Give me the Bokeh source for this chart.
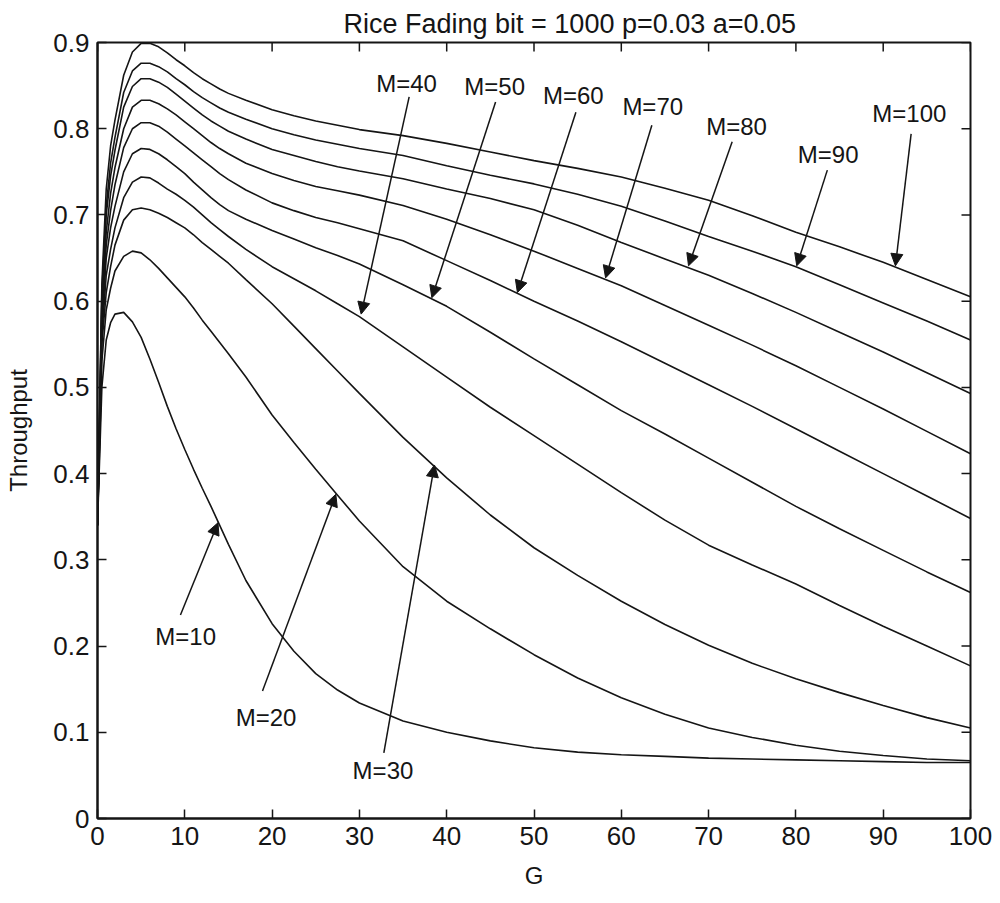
import math
from bokeh.plotting import figure
from bokeh.models import Range1d, FixedTicker, Arrow, NormalHead, Label, Title
from bokeh.embed import file_html
from bokeh.resources import INLINE

# ---------------- data ----------------
G = [0, 0.5, 1, 1.5, 2, 3, 4, 5, 6, 7, 8, 9, 10, 11, 12, 13, 14, 15, 17, 20,
     22.5, 25, 27.5, 30, 35, 40, 45, 50, 55, 60, 65, 70, 75, 80, 85, 90, 95, 100]

M100 = [0.34, 0.62, 0.73, 0.78, 0.81, 0.862, 0.889, 0.899, 0.899, 0.895, 0.888, 0.880, 0.873, 0.865, 0.858, 0.852, 0.846, 0.841, 0.833, 0.822,
        0.815, 0.809, 0.804, 0.799, 0.792, 0.783, 0.773, 0.763, 0.754, 0.744, 0.731, 0.717, 0.699, 0.680, 0.663, 0.645, 0.625, 0.605]
M90 = [0.34, 0.61, 0.71, 0.76, 0.79, 0.842, 0.867, 0.876, 0.876, 0.872, 0.866, 0.858, 0.851, 0.843, 0.836, 0.830, 0.824, 0.819, 0.811, 0.800,
       0.793, 0.787, 0.782, 0.777, 0.769, 0.757, 0.746, 0.736, 0.724, 0.710, 0.693, 0.675, 0.658, 0.640, 0.619, 0.598, 0.577, 0.555]
M80 = [0.34, 0.60, 0.70, 0.745, 0.775, 0.825, 0.849, 0.858, 0.858, 0.854, 0.848, 0.840, 0.832, 0.824, 0.816, 0.809, 0.803, 0.797, 0.788, 0.776,
       0.769, 0.762, 0.756, 0.751, 0.742, 0.730, 0.719, 0.706, 0.688, 0.668, 0.649, 0.630, 0.609, 0.587, 0.564, 0.541, 0.517, 0.493]
M70 = [0.34, 0.59, 0.68, 0.725, 0.755, 0.80, 0.825, 0.833, 0.833, 0.829, 0.823, 0.816, 0.808, 0.800, 0.792, 0.784, 0.777, 0.771, 0.760, 0.748,
       0.740, 0.733, 0.728, 0.723, 0.711, 0.695, 0.677, 0.658, 0.638, 0.618, 0.595, 0.572, 0.549, 0.525, 0.500, 0.475, 0.449, 0.423]
M60 = [0.34, 0.58, 0.665, 0.705, 0.735, 0.778, 0.800, 0.807, 0.807, 0.803, 0.796, 0.788, 0.780, 0.772, 0.764, 0.756, 0.748, 0.741, 0.729, 0.714,
       0.705, 0.697, 0.691, 0.684, 0.670, 0.647, 0.624, 0.600, 0.577, 0.553, 0.528, 0.503, 0.478, 0.452, 0.426, 0.400, 0.374, 0.348]
M50 = [0.34, 0.57, 0.65, 0.685, 0.71, 0.750, 0.771, 0.777, 0.776, 0.771, 0.764, 0.756, 0.748, 0.738, 0.729, 0.720, 0.712, 0.705, 0.695, 0.682,
       0.672, 0.662, 0.653, 0.643, 0.619, 0.594, 0.564, 0.533, 0.503, 0.473, 0.446, 0.418, 0.390, 0.362, 0.336, 0.311, 0.286, 0.262]
M40 = [0.34, 0.56, 0.63, 0.66, 0.685, 0.720, 0.738, 0.744, 0.743, 0.737, 0.730, 0.724, 0.717, 0.709, 0.700, 0.691, 0.683, 0.675, 0.660, 0.640,
       0.626, 0.612, 0.597, 0.582, 0.547, 0.512, 0.477, 0.444, 0.411, 0.378, 0.346, 0.317, 0.294, 0.272, 0.247, 0.223, 0.200, 0.177]
M30 = [0.34, 0.55, 0.61, 0.64, 0.665, 0.694, 0.706, 0.708, 0.706, 0.702, 0.697, 0.691, 0.685, 0.677, 0.668, 0.660, 0.652, 0.644, 0.625, 0.597,
       0.571, 0.545, 0.519, 0.493, 0.442, 0.395, 0.352, 0.314, 0.282, 0.252, 0.225, 0.201, 0.180, 0.162, 0.146, 0.131, 0.117, 0.105]
M20 = [0.34, 0.53, 0.59, 0.615, 0.635, 0.652, 0.658, 0.656, 0.648, 0.638, 0.627, 0.616, 0.605, 0.592, 0.578, 0.565, 0.552, 0.539, 0.512, 0.468,
       0.436, 0.405, 0.375, 0.345, 0.292, 0.252, 0.220, 0.190, 0.163, 0.140, 0.121, 0.105, 0.094, 0.085, 0.078, 0.073, 0.069, 0.067]
M10 = [0.34, 0.50, 0.555, 0.575, 0.585, 0.587, 0.576, 0.558, 0.533, 0.506, 0.478, 0.452, 0.428, 0.405, 0.383, 0.362, 0.340, 0.318, 0.276, 0.226,
       0.194, 0.168, 0.149, 0.134, 0.113, 0.100, 0.090, 0.082, 0.077, 0.074, 0.072, 0.070, 0.069, 0.068, 0.067, 0.066, 0.065, 0.065]

SERIES = [M10, M20, M30, M40, M50, M60, M70, M80, M90, M100]
SERIES_NAMES = ["M=10", "M=20", "M=30", "M=40", "M=50", "M=60", "M=70", "M=80", "M=90", "M=100"]

X_TICKS = [0, 10, 20, 30, 40, 50, 60, 70, 80, 90, 100]
Y_TICKS = [0, 0.1, 0.2, 0.3, 0.4, 0.5, 0.6, 0.7, 0.8, 0.9]
Y_TICK_LABELS = ["0", "0.1", "0.2", "0.3", "0.4", "0.5", "0.6", "0.7", "0.8", "0.9"]

TITLE = "Rice Fading bit = 1000 p=0.03 a=0.05"
X_LABEL = "G"
Y_LABEL = "Throughput"

# annotation placement: (label x, label y, arrow tail x, tail y, arrow tip x, tip y)
ANNOT_POS = [
    (10.1, 0.211, 9.5, 0.236, 13.8, 0.343),
    (19.3, 0.117, 18.9, 0.148, 27.3, 0.376),
    (32.7, 0.056, 32.8, 0.076, 38.6, 0.410),
    (35.4, 0.853, 35.7, 0.837, 30.2, 0.585),
    (45.5, 0.849, 45.6, 0.831, 38.3, 0.604),
    (54.5, 0.839, 54.8, 0.819, 48.1, 0.610),
    (63.6, 0.826, 63.5, 0.804, 58.2, 0.627),
    (73.2, 0.802, 72.7, 0.785, 67.7, 0.641),
    (83.7, 0.770, 83.6, 0.752, 80.1, 0.641),
    (93.0, 0.818, 93.2, 0.794, 91.4, 0.641),
]

FONT = "Liberation Sans"
INK = "#151515"

p = figure(width=992, height=902, x_range=Range1d(0, 100), y_range=Range1d(0, 0.9),
           output_backend="svg", toolbar_location=None, title=None,
           min_border_left=97, min_border_right=22, min_border_top=42, min_border_bottom=84)
p.background_fill_color = "white"
p.border_fill_color = "white"
p.grid.visible = False
p.outline_line_color = INK
p.outline_line_width = 2

for vals in SERIES:
    p.line(G, vals, line_color=INK, line_width=1.6)

for ax in (p.xaxis[0], p.yaxis[0]):
    ax.major_tick_in = 9
    ax.major_tick_out = 0
    ax.minor_tick_in = 0
    ax.minor_tick_out = 0
    ax.axis_line_color = INK
    ax.axis_line_width = 2
    ax.major_tick_line_color = INK
    ax.major_tick_line_width = 1.5
    ax.major_label_text_font = FONT
    ax.major_label_text_font_size = "26px"
    ax.major_label_text_color = INK
    ax.major_label_standoff = 8
    ax.axis_label_text_font = FONT
    ax.axis_label_text_font_style = "normal"
    ax.axis_label_text_font_size = "24px"
    ax.axis_label_text_color = INK

p.xaxis[0].ticker = FixedTicker(ticks=X_TICKS)
p.yaxis[0].ticker = FixedTicker(ticks=Y_TICKS)
p.yaxis[0].major_label_overrides = {t: s for t, s in zip(Y_TICKS, Y_TICK_LABELS)}
p.xaxis[0].axis_label = X_LABEL
p.yaxis[0].axis_label = Y_LABEL
p.xaxis[0].axis_label_standoff = 14
p.yaxis[0].axis_label_standoff = 18

# mirrored inward ticks on the top and right edges (MATLAB "box on"); the frame clips the outer half
p.scatter(X_TICKS, [0.9] * len(X_TICKS), marker="dash", size=18, angle=math.pi / 2,
          line_color=INK, line_width=1.5)
p.scatter([100] * len(Y_TICKS), Y_TICKS, marker="dash", size=18,
          line_color=INK, line_width=1.5)

p.add_layout(Title(text=TITLE, align="left", offset=246, standoff=8,
                   text_font=FONT, text_font_size="27px", text_font_style="normal",
                   text_color=INK), "above")

for name, (lx, ly, tx, ty, hx, hy) in zip(SERIES_NAMES, ANNOT_POS):
    p.add_layout(Label(x=lx, y=ly, text=name, text_align="center", text_baseline="middle",
                       text_font=FONT, text_font_size="24px", text_color=INK))
    p.add_layout(Arrow(x_start=tx, y_start=ty, x_end=hx, y_end=hy,
                       line_color=INK, line_width=1.5,
                       end=NormalHead(size=12, fill_color=INK, line_color=INK)))

open("out.html", "w").write(file_html(p, INLINE))
